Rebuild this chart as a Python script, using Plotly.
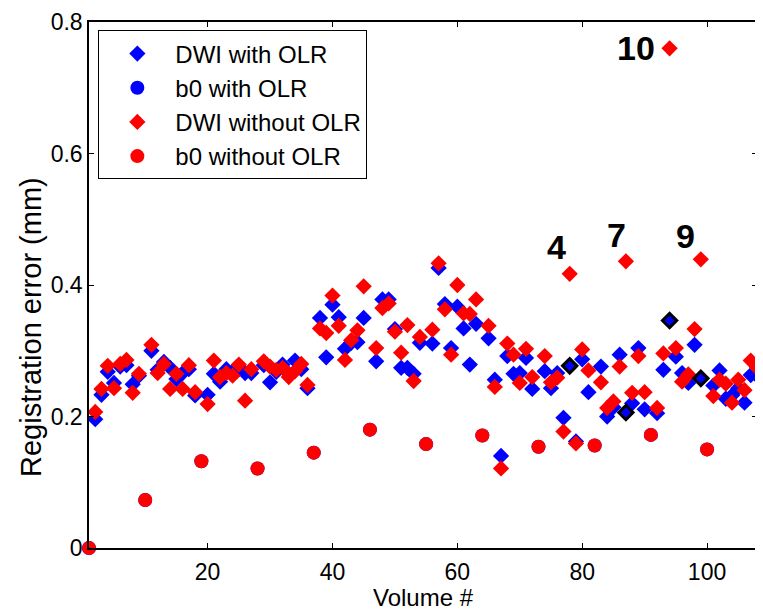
import plotly.graph_objects as go

# ---- data ----
dwi_volumes = [2, 3, 4, 5, 6, 7, 8, 9, 11, 12, 13, 14, 15, 16, 17, 18,
               20, 21, 22, 23, 24, 25, 26, 27, 29, 30, 31, 32, 33, 34, 35, 36,
               38, 39, 40, 41, 42, 43, 44, 45, 47, 48, 49, 50, 51, 52, 53, 54,
               56, 57, 58, 59, 60, 61, 62, 63, 65, 66, 67, 68, 69, 70, 71, 72,
               74, 75, 76, 77, 78, 79, 80, 81, 83, 84, 85, 86, 87, 88, 89, 90,
               92, 93, 94, 95, 96, 97, 98, 99, 101, 102, 103, 104, 105, 106, 107, 108]

dwi_with_olr = [0.196, 0.233, 0.268, 0.251, 0.276, 0.278, 0.249, 0.262,
                0.300, 0.271, 0.283, 0.274, 0.257, 0.266, 0.272, 0.232,
                0.233, 0.265, 0.253, 0.272, 0.268, 0.272, 0.266, 0.266,
                0.278, 0.252, 0.268, 0.279, 0.265, 0.285, 0.272, 0.243,
                0.350, 0.290, 0.370, 0.351, 0.303, 0.312, 0.313, 0.350,
                0.284, 0.378, 0.378, 0.333, 0.274, 0.274, 0.265, 0.312,
                0.311, 0.426, 0.371, 0.304, 0.367, 0.334, 0.279, 0.341,
                0.319, 0.256, 0.140, 0.292, 0.265, 0.266, 0.289, 0.242,
                0.269, 0.243, 0.266, 0.198, 0.277, 0.162, 0.287, 0.237,
                0.276, 0.200, 0.214, 0.294, 0.206, 0.220, 0.304, 0.211,
                0.205, 0.271, 0.346, 0.291, 0.266, 0.251, 0.309, 0.258,
                0.247, 0.270, 0.227, 0.232, 0.243, 0.221, 0.263, 0.262]

dwi_without_olr = [0.207, 0.242, 0.277, 0.243, 0.280, 0.286, 0.236, 0.265,
                   0.309, 0.266, 0.280, 0.242, 0.265, 0.242, 0.278, 0.237,
                   0.219, 0.285, 0.260, 0.266, 0.262, 0.279, 0.224, 0.272,
                   0.284, 0.276, 0.271, 0.274, 0.260, 0.269, 0.280, 0.248,
                   0.334, 0.327, 0.384, 0.338, 0.286, 0.316, 0.331, 0.398,
                   0.304, 0.365, 0.372, 0.329, 0.297, 0.339, 0.254, 0.321,
                   0.332, 0.433, 0.363, 0.294, 0.400, 0.357, 0.356, 0.378,
                   0.338, 0.245, 0.121, 0.311, 0.294, 0.251, 0.303, 0.260,
                   0.292, 0.252, 0.259, 0.177, 0.417, 0.159, 0.302, 0.270,
                   0.252, 0.213, 0.223, 0.276, 0.436, 0.236, 0.292, 0.237,
                   0.213, 0.296, 0.760, 0.304, 0.253, 0.264, 0.333, 0.439,
                   0.231, 0.256, 0.250, 0.221, 0.256, 0.240, 0.285, 0.274]

b0_volumes = [1, 10, 19, 28, 37, 46, 55, 64, 73, 82, 91, 100]
b0_with_olr = [0.0, 0.073, 0.132, 0.121, 0.145, 0.180, 0.158, 0.171, 0.154, 0.156, 0.172, 0.150]
b0_without_olr = [0.0, 0.073, 0.132, 0.121, 0.145, 0.180, 0.158, 0.171, 0.154, 0.156, 0.172, 0.150]

outlier_volumes = [78, 87, 99, 94]
outlier_labels = ["4", "7", "9", "10"]

FONT = "Liberation Sans, Arial, Helvetica, sans-serif"
BLUE = "#0000ff"
RED = "#ff0000"

fig = go.Figure()

fig.add_trace(go.Scatter(x=dwi_volumes, y=dwi_with_olr, mode="markers", name="DWI with OLR",
                         marker=dict(symbol="diamond", size=12.5, color=BLUE, line=dict(width=0)),
                         cliponaxis=False))
fig.add_trace(go.Scatter(x=b0_volumes, y=b0_with_olr, mode="markers", name="b0 with OLR",
                         marker=dict(symbol="circle", size=14, color=BLUE, line=dict(width=0)),
                         cliponaxis=False))
fig.add_trace(go.Scatter(x=dwi_volumes, y=dwi_without_olr, mode="markers", name="DWI without OLR",
                         marker=dict(symbol="diamond", size=12.5, color=RED, line=dict(width=0)),
                         cliponaxis=False))
fig.add_trace(go.Scatter(x=b0_volumes, y=b0_without_olr, mode="markers", name="b0 without OLR",
                         marker=dict(symbol="circle", size=14, color=RED, line=dict(width=0)),
                         cliponaxis=False))

# highlighted (outlier) volumes: with-OLR value outlined in black
hx, hy = [], []
for v in outlier_volumes:
    i = dwi_volumes.index(v)
    hx.append(v)
    hy.append(dwi_with_olr[i])
fig.add_trace(go.Scatter(x=hx, y=hy, mode="markers", showlegend=False,
                         marker=dict(symbol="diamond", size=11, color=BLUE,
                                     line=dict(width=3, color="black")),
                         cliponaxis=False))

# outlier labels
label_shift = {"4": (-13, 27), "7": (-9, 26), "9": (-15, 23), "10": (-34, 0)}
for v, lab in zip(outlier_volumes, outlier_labels):
    i = dwi_volumes.index(v)
    dx, dy = label_shift[lab]
    fig.add_annotation(x=v, y=dwi_without_olr[i], text="<b>%s</b>" % lab, showarrow=False,
                       xshift=dx, yshift=dy, xanchor="center", yanchor="middle",
                       font=dict(family=FONT, size=34, color="black"))

# y-axis label (placed as in the reference, slightly below the axis centre)
fig.add_annotation(xref="paper", yref="paper", x=-0.087, y=0.42, text="Registration error (mm)",
                   textangle=-90, showarrow=False, xanchor="center", yanchor="middle",
                   font=dict(family=FONT, size=29, color="black"))

axis_common = dict(showline=True, linecolor="black", linewidth=1.5, mirror="ticks",
                   ticks="inside", ticklen=5, tickcolor="black", showgrid=False,
                   zeroline=False, tickfont=dict(family=FONT, size=23, color="black"))

fig.update_layout(
    width=755, height=603,
    margin=dict(l=80.5, r=5.5, t=13.6, b=62.6, autoexpand=False),
    paper_bgcolor="white", plot_bgcolor="white",
    font=dict(family=FONT, color="black"),
    xaxis=dict(range=[1, 108], tickvals=[20, 40, 60, 80, 100], ticklabelstandoff=3,
               title=dict(text="Volume #", font=dict(family=FONT, size=24), standoff=7),
               **axis_common),
    yaxis=dict(range=[0, 0.8], tickvals=[0, 0.2, 0.4, 0.6, 0.8],
               ticktext=["0", "0.2", "0.4", "0.6", "0.8"],
               **axis_common),
    legend=dict(x=0.014, y=0.984, xanchor="left", yanchor="top",
                bgcolor="white", bordercolor="black", borderwidth=1,
                font=dict(family=FONT, size=24, color="black"),
                itemwidth=66, tracegroupgap=0),
    showlegend=True,
)

fig.write_html("out.html")
